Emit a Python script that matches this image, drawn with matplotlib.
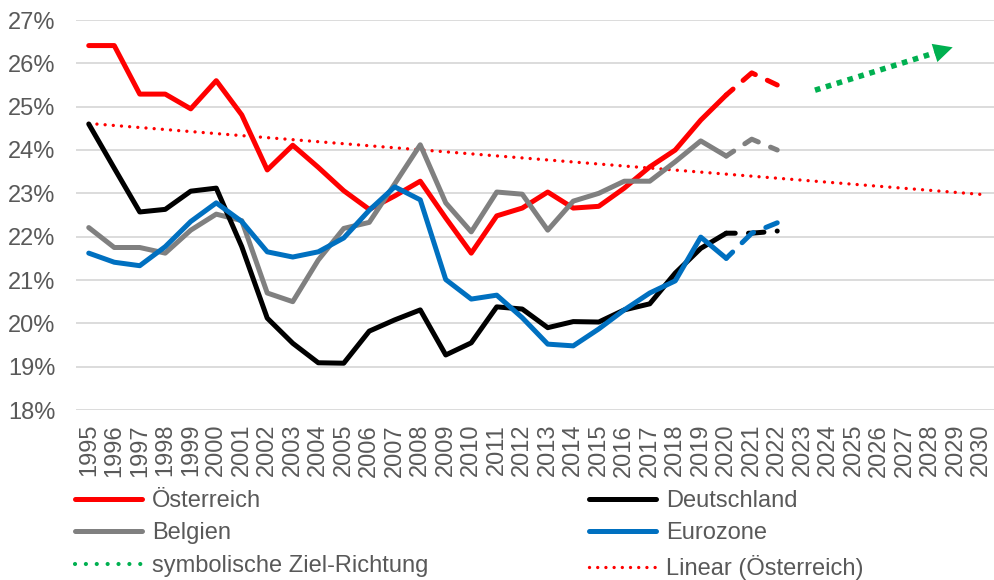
import numpy as np
import matplotlib.pyplot as plt
from matplotlib.lines import Line2D

# Jahre der Kategorieachse
years = list(range(1995, 2031))
dataYears = list(range(1995, 2023))

# Werte in Prozent, 1995-2022 (ab 2020 vorläufig -> gestrichelt)
oesterreich = [26.41, 26.41, 25.29, 25.29, 24.95, 25.60, 24.81, 23.54, 24.11, 23.60,
	23.06, 22.63, 22.94, 23.28, 22.43, 21.62, 22.48, 22.66, 23.03, 22.66,
	22.70, 23.12, 23.61, 24.00, 24.69, 25.27, 25.78, 25.50]
deutschland = [24.60, 23.58, 22.57, 22.63, 23.05, 23.12, 21.77, 20.12, 19.54, 19.09,
	19.08, 19.82, 20.08, 20.31, 19.27, 19.55, 20.38, 20.33, 19.90, 20.04,
	20.03, 20.31, 20.45, 21.16, 21.73, 22.08, 22.08, 22.13]
belgien = [22.21, 21.75, 21.75, 21.62, 22.15, 22.52, 22.37, 20.70, 20.50, 21.46,
	22.19, 22.33, 23.22, 24.12, 22.78, 22.11, 23.03, 22.98, 22.15, 22.82,
	23.00, 23.28, 23.28, 23.73, 24.21, 23.86, 24.25, 24.00]
eurozone = [21.62, 21.41, 21.33, 21.77, 22.35, 22.78, 22.35, 21.65, 21.53, 21.65,
	21.97, 22.61, 23.15, 22.85, 21.01, 20.56, 20.65, 20.13, 19.52, 19.48,
	19.87, 20.31, 20.70, 20.98, 21.99, 21.50, 22.08, 22.32]

# symbolische Ziel-Richtung (Anfang, Spitze)
zielJahre = [2023.48, 2028.88]
zielWerte = [25.38, 26.37]

yTicks = list(range(18, 28))

textColor = '#595959'
gridColor = '#D9D9D9'
fontSize = 17

plt.rcParams['font.family'] = ['Liberation Sans', 'DejaVu Sans']

fig = plt.figure(figsize=(9.95, 5.8), dpi=100)
ax = fig.add_axes([76/995, 1-410/580, 918/995, 390/580])

series = [
	(oesterreich, '#FF0000', 'Österreich'),
	(belgien, '#808080', 'Belgien'),
	(deutschland, '#000000', 'Deutschland'),
	(eurozone, '#0070C0', 'Eurozone'),
]

cut = dataYears.index(2020)
handles = {}
for values, color, name in series:
	line, = ax.plot(dataYears[:cut+1], values[:cut+1], color=color, lw=3.6,
		solid_capstyle='round', solid_joinstyle='round', zorder=3)
	ax.plot(dataYears[cut:], values[cut:], color=color, lw=3.6,
		linestyle=(1.3, (3.1, 2.65)), dash_capstyle='round', zorder=3)
	handles[name] = line

# lineare Trendlinie für Österreich bis 2030
slope, intercept = np.polyfit(dataYears, oesterreich, 1)
trendYears = np.array([years[0], years[-1]])
trend, = ax.plot(trendYears, slope*trendYears + intercept, color='#FF0000', lw=2.4,
	linestyle=(0, (0.01, 2.45)), dash_capstyle='round', zorder=2)

# grüner Pfeil: gepunkteter Schaft + gefüllte Spitze
headFrac = 0.88
baseX = zielJahre[0] + headFrac*(zielJahre[1]-zielJahre[0])
baseY = zielWerte[0] + headFrac*(zielWerte[1]-zielWerte[0])
ax.plot([zielJahre[0], baseX], [zielWerte[0], baseY], color='#00B050', lw=4.0,
	dashes=(1, 1.05), dash_capstyle='butt', zorder=3)
ax.annotate('', xy=(zielJahre[1], zielWerte[1]), xytext=(baseX, baseY),
	arrowprops=dict(arrowstyle='-|>,head_length=1.37,head_width=0.685',
		mutation_scale=10, color='#00B050', lw=0, shrinkA=0, shrinkB=0), zorder=3)

ax.set_xlim(1994.5, 2030.5)
ax.set_ylim(18, 27)
ax.set_xticks(years)
ax.set_xticklabels([str(y) for y in years], rotation=90)
ax.set_yticks(yTicks)
ax.set_yticklabels(['%d%%' % v for v in yTicks])
ax.tick_params(axis='both', length=0, labelsize=fontSize, labelcolor=textColor)
ax.tick_params(axis='y', pad=15)
ax.tick_params(axis='x', pad=10)
ax.grid(axis='y', color=gridColor, lw=1.3, zorder=0)
for s in ax.spines.values():
	s.set_visible(False)

# Legende: Zeilenweise wie in Excel (ncol füllt spaltenweise)
zielProxy = Line2D([], [], color='#00B050', lw=3.0, linestyle=(0, (0.01, 2.6)),
	dash_capstyle='round')
legHandles = [handles['Österreich'], handles['Belgien'], zielProxy,
	handles['Deutschland'], handles['Eurozone'], trend]
legLabels = ['Österreich', 'Belgien', 'symbolische Ziel-Richtung',
	'Deutschland', 'Eurozone', 'Linear (Österreich)']
leg = fig.legend(legHandles, legLabels, ncol=2, loc='upper left',
	bbox_to_anchor=(75/995, 1-490/580), frameon=False, fontsize=fontSize,
	handlelength=2.83, handletextpad=0.42, columnspacing=6.82,
	labelspacing=0.44, borderpad=0, borderaxespad=0)
for t in leg.get_texts():
	t.set_color(textColor)

fig.savefig('out.png', dpi=100)
